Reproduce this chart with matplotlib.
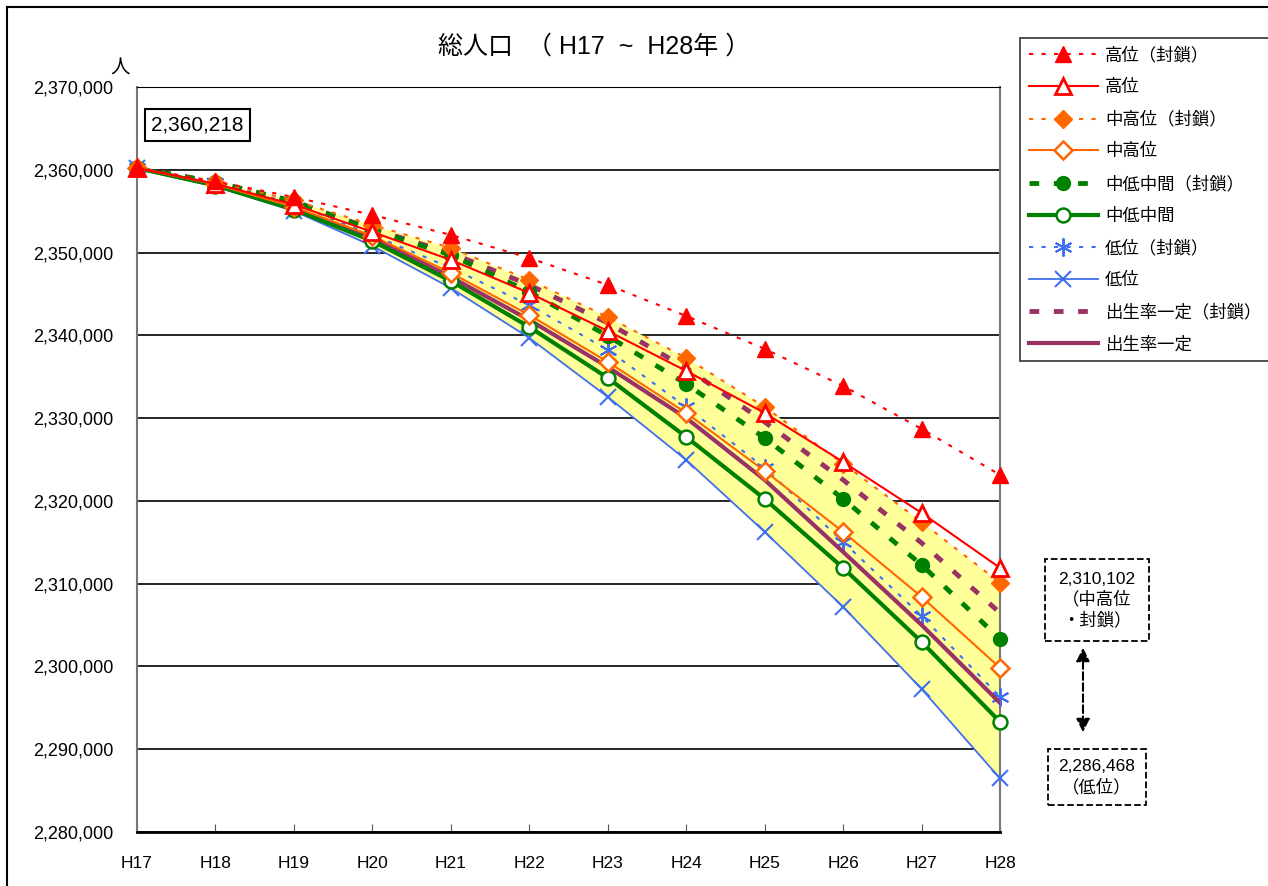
import matplotlib
matplotlib.use("Agg")
import matplotlib.pyplot as plt
from matplotlib.ticker import FuncFormatter, MultipleLocator
from matplotlib.lines import Line2D

plt.rcParams['font.family'] = ['Liberation Sans', 'Noto Sans CJK JP', 'DejaVu Sans']

# 年次
years = ["H17", "H18", "H19", "H20", "H21", "H22", "H23", "H24", "H25", "H26", "H27", "H28"]

# 推計値 (人)
high_sealed = [2360218, 2358600, 2356700, 2354540, 2352130, 2349350, 2346090, 2342340, 2338360, 2333890, 2328700, 2323140]
high = [2360218, 2358300, 2355800, 2352490, 2349110, 2345120, 2340530, 2335700, 2330630, 2324710, 2318550, 2311910]
midhigh_sealed = [2360218, 2358550, 2356300, 2353330, 2350560, 2346690, 2342220, 2337270, 2331350, 2324500, 2317460, 2310102]
midhigh = [2360218, 2358250, 2355500, 2352000, 2347540, 2342460, 2336790, 2330630, 2323620, 2316260, 2308410, 2299830]
midlow_sealed = [2360218, 2358500, 2356200, 2352730, 2349710, 2345240, 2339930, 2334130, 2327610, 2320240, 2312270, 2303330]
midlow = [2360218, 2358100, 2355200, 2351400, 2346570, 2341010, 2334860, 2327730, 2320240, 2311910, 2302970, 2293310]
low_sealed = [2360218, 2358450, 2355900, 2352120, 2348140, 2343670, 2338240, 2331350, 2323990, 2315050, 2306110, 2296330]
low = [2360218, 2358000, 2355020, 2350800, 2345720, 2339690, 2332560, 2324950, 2316260, 2307200, 2297290, 2286468]
birth_sealed = [2360218, 2358500, 2356100, 2352850, 2349950, 2346090, 2341500, 2336060, 2329540, 2322540, 2314930, 2306470]
birth = [2360218, 2358150, 2355300, 2351760, 2347050, 2341860, 2336180, 2330020, 2322540, 2313840, 2305020, 2295600]

x = list(range(len(years)))

fig = plt.figure(figsize=(12.68, 8.86), dpi=100)
ax = fig.add_axes([137 / 1268, 1 - 832 / 886, (1000 - 137) / 1268, (832 - 87) / 886])

RED = "#FF0000"
ORANGE = "#FF6600"
GREEN = "#008000"
BLUE = "#3F6FF0"
PURPLE = "#993366"

# 黄色の幅
ax.fill_between(x, low, midhigh_sealed, color="#FFFF99", zorder=1, linewidth=0)

ax.plot(x, low, color=BLUE, lw=1.3, marker="x", ms=11, mew=1.5, zorder=3, label="低位", clip_on=False)
ax.plot(x, low_sealed, color=BLUE, lw=1.5, ls=(0, (2, 4)), marker=(6, 2, 0), ms=13, mew=1.4,
        zorder=3, label="低位（封鎖）", clip_on=False)
ax.plot(x, birth, color=PURPLE, lw=3, zorder=3, label="出生率一定")
ax.plot(x, birth_sealed, color=PURPLE, lw=3.5, ls=(0, (2, 3)), zorder=3, label="出生率一定（封鎖）")
ax.plot(x, midlow, color=GREEN, lw=3, marker="o", ms=10, mfc="white", mec=GREEN, mew=1.8,
        zorder=4, label="中低中間", clip_on=False)
ax.plot(x, midlow_sealed, color=GREEN, lw=3.5, ls=(0, (2, 3)), marker="o", ms=10, mfc=GREEN,
        mec=GREEN, zorder=4, label="中低中間（封鎖）", clip_on=False)
ax.plot(x, midhigh, color=ORANGE, lw=1.5, marker="D", ms=9, mfc="white", mec=ORANGE, mew=1.8,
        zorder=5, label="中高位", clip_on=False)
ax.plot(x, midhigh_sealed, color=ORANGE, lw=1.5, ls=(0, (2, 4)), marker="D", ms=9, mfc=ORANGE,
        mec=ORANGE, zorder=5, label="中高位（封鎖）", clip_on=False)
ax.plot(x, high, color=RED, lw=1.5, marker="^", ms=12, mfc="white", mec=RED, mew=2,
        zorder=6, label="高位", clip_on=False)
ax.plot(x, high_sealed, color=RED, lw=1.5, ls=(0, (2, 4)), marker="^", ms=12, mfc=RED,
        mec=RED, zorder=6, label="高位（封鎖）", clip_on=False)

ax.set_xlim(0, len(years) - 1)
ax.set_ylim(2280000, 2370000)
ax.set_xticks(x)
ax.set_xticklabels(years, fontsize=12)
ax.yaxis.set_major_locator(MultipleLocator(10000))
ax.yaxis.set_major_formatter(FuncFormatter(lambda v, p: f"{int(v):,}"))
ax.tick_params(axis="y", length=0, labelsize=13, pad=17)
ax.tick_params(axis="x", direction="in", length=6, labelsize=12.5, pad=17, color="#555555")
ax.grid(axis="y", color="black", lw=1.2)
ax.set_axisbelow(True)
for s in ["left", "right"]:
    ax.spines[s].set_color("#777777")
    ax.spines[s].set_linewidth(1.5)
ax.spines["top"].set_color("black")
ax.spines["bottom"].set_color("black")
ax.spines["bottom"].set_linewidth(2)
ax.spines["bottom"].set_zorder(10)

fig.text(120 / 1268, 1 - 69 / 886, "人", fontsize=14, ha="center", va="center")
fig.text(594 / 1268, 1 - 47 / 886, "総人口  （ H17  ~  H28年 ）", fontsize=18, ha="center", va="center")

# 注記
ax.text(0.18, 2365400, f"{high_sealed[0]:,}", fontsize=15, ha="left", va="center",
        bbox=dict(boxstyle="square,pad=0.3", fc="white", ec="black", lw=1.5), zorder=12)
fig.text(1097 / 1268, 1 - 600 / 886, f"{midhigh_sealed[-1]:,}\n（中高位\n・封鎖）", fontsize=12.5,
         ha="center", va="center", linespacing=1.3,
         bbox=dict(boxstyle="square,pad=0.75", fc="white", ec="black", lw=1.3, ls="--"))
fig.text(1097 / 1268, 1 - 777 / 886, f"{low[-1]:,}\n（低位）", fontsize=12.5,
         ha="center", va="center", linespacing=1.3,
         bbox=dict(boxstyle="square,pad=0.6", fc="white", ec="black", lw=1.3, ls="--"))
fig.add_artist(matplotlib.patches.FancyArrowPatch(
    (1083 / 1268, 1 - 645 / 886), (1083 / 1268, 1 - 735 / 886), transform=fig.transFigure,
    arrowstyle="<|-|>", mutation_scale=20, color="black", lw=1.5, ls="--"))

# 外枠
fig.add_artist(Line2D([7 / 1268, 1], [1 - 7 / 886, 1 - 7 / 886], transform=fig.transFigure, color="black", lw=1.5))
fig.add_artist(Line2D([7 / 1268, 7 / 1268], [0, 1 - 7 / 886], transform=fig.transFigure, color="black", lw=1.5))

order = ["高位（封鎖）", "高位", "中高位（封鎖）", "中高位", "中低中間（封鎖）", "中低中間",
         "低位（封鎖）", "低位", "出生率一定（封鎖）", "出生率一定"]
h, l = ax.get_legend_handles_labels()
hd = dict(zip(l, h))
leg = fig.legend([hd[k] for k in order], order, loc="upper left",
                 bbox_to_anchor=(1020 / 1268, 1 - 38 / 886), fontsize=12.5, frameon=True,
                 fancybox=False, edgecolor="black", handlelength=4.0, labelspacing=0.9,
                 borderpad=0.5, handletextpad=0.4, borderaxespad=0)
leg.get_frame().set_linewidth(1.2)

fig.savefig("out.png", dpi=100)
